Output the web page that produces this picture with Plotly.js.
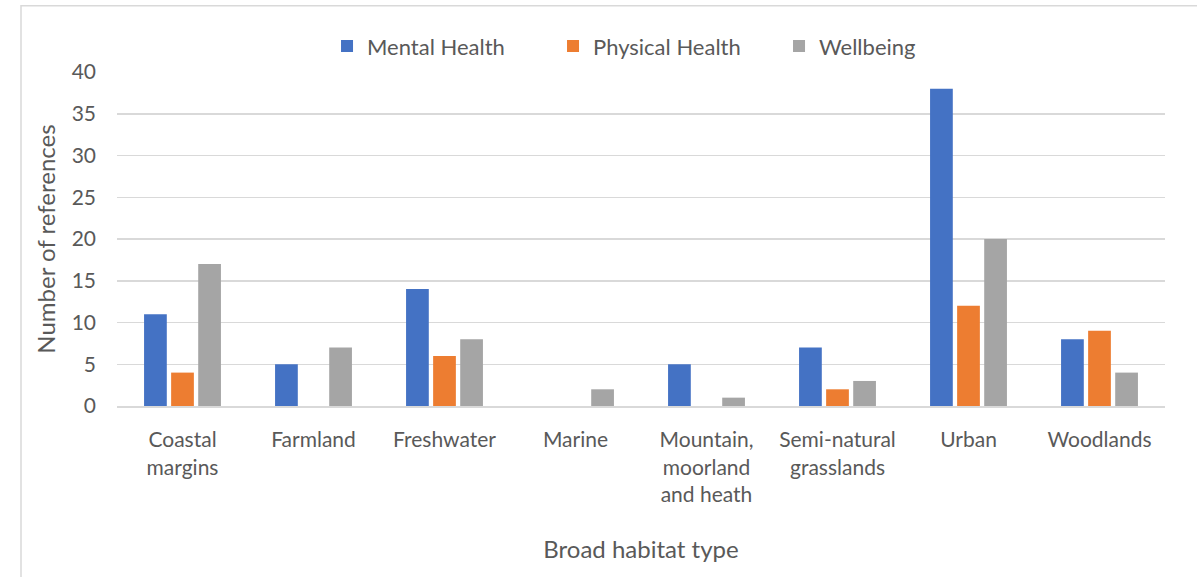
<!DOCTYPE html>
<html>
<head>
<meta charset="utf-8">
<script src="https://cdn.plot.ly/plotly-3.0.1.min.js"></script>
<style>html,body{margin:0;padding:0;background:#fff;}#chart{width:1197px;height:577px;}</style>
</head>
<body>
<div id="chart"></div>
<script>
const categories = ["Coastal<br>margins", "Farmland", "Freshwater", "Marine", "Mountain,<br>moorland<br>and heath", "Semi-natural<br>grasslands", "Urban", "Woodlands"];
const mentalHealth = [11, 5, 14, 0, 5, 7, 38, 8];
const physicalHealth = [4, 0, 6, 0, 0, 2, 12, 9];
const wellbeing = [17, 7, 8, 2, 1, 3, 20, 4];
const seriesNames = ["Mental Health", "Physical Health", "Wellbeing"];
const colors = ["#4472C4", "#ED7D31", "#A5A5A5"];
const yTicks = [0, 5, 10, 15, 20, 25, 30, 35, 40];

const font = "Lato, 'Open Sans', sans-serif";
const traces = [mentalHealth, physicalHealth, wellbeing].map((vals, i) => ({
  type: "bar",
  name: seriesNames[i],
  x: categories,
  y: vals,
  marker: {color: colors[i], line: {width: 0}},
  hoverinfo: "x+y+name"
}));

const layout = {
  width: 1197, height: 577,
  margin: {l: 117, r: 32, t: 72, b: 171},
  paper_bgcolor: "#fff", plot_bgcolor: "#fff",
  font: {family: font, color: "#595959", size: 21},
  barmode: "group",
  bargap: 0.38,
  bargroupgap: 0.16,
  showlegend: true,
  legend: {orientation: "h", x: 0.2732, xanchor: "left", xref: "container", y: 0.92, yref: "container", yanchor: "middle",
    font: {size: 22, color: "#595959"}, entrywidth: 181, traceorder: "normal"},
  xaxis: {
    showline: true, linecolor: "#d9d9d9", linewidth: 2,
    ticks: "", showgrid: false, tickfont: {size: 21, color: "#595959"}, ticklabelstandoff: 14,
    title: {text: "Broad habitat type", font: {size: 24, color: "#595959"}, standoff: 36},
    automargin: false
  },
  yaxis: {
    range: [0, 40], tickvals: yTicks, ticktext: yTicks.map(String),
    showgrid: true, gridcolor: "#d9d9d9", gridwidth: 1.5, zeroline: false,
    showline: false, ticks: "", ticklen: 0, tickfont: {size: 21, color: "#595959"}, ticklabelstandoff: 20,
    title: {text: "Number of references", font: {size: 24, color: "#595959"}, standoff: 9},
    automargin: false
  },
  shapes: [{type: "rect", xref: "paper", yref: "paper", x0: -0.0916, x1: 1.1, y0: -0.6, y1: 1.198,
    line: {color: "#d9d9d9", width: 1.5}, fillcolor: "rgba(0,0,0,0)", layer: "below"}]
};

Plotly.newPlot("chart", traces, layout, {displayModeBar: false, staticPlot: true});
</script>
</body>
</html>
